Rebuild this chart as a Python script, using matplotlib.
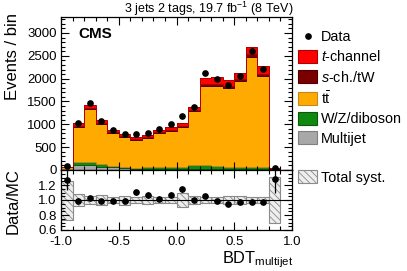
import numpy as np
import matplotlib
matplotlib.use("Agg")
import matplotlib.pyplot as plt
from matplotlib.patches import Patch
from matplotlib.lines import Line2D

plt.rcParams['font.family'] = ['Liberation Sans', 'DejaVu Sans']
plt.rcParams['mathtext.fontset'] = 'custom'
plt.rcParams['mathtext.rm'] = 'Liberation Sans'
plt.rcParams['mathtext.it'] = 'Liberation Sans:italic'
plt.rcParams['mathtext.bf'] = 'Liberation Sans:bold'
plt.rcParams['hatch.linewidth'] = 0.6

# BDT_multijet bins, width 0.1 from -1.0 to 0.9
edges = np.round(np.arange(-1.0, 0.95, 0.1), 2)

multijet = [15, 115, 110, 75, 58, 40, 30, 30, 25, 22, 22, 22, 22, 20, 20, 20, 20, 20, 3]
wz       = [5, 53, 58, 50, 37, 33, 21, 43, 33, 36, 36, 88, 78, 60, 53, 46, 38, 38, 2]
ttbar    = [48, 776, 1157, 878, 710, 652, 615, 630, 747, 791, 886, 1179, 1738, 1765, 1728, 1874, 2424, 1999, 27]
sch      = [2, 28, 30, 28, 24, 22, 18, 20, 22, 25, 26, 28, 45, 45, 42, 42, 50, 50, 1]
tch      = [5, 68, 73, 67, 57, 51, 41, 46, 51, 63, 62, 67, 137, 145, 134, 134, 162, 170, 2]
data     = [95, 1032, 1464, 1083, 878, 791, 798, 820, 893, 1003, 1179, 1384, 2123, 1999, 1867, 2050, 2606, 2218, 45]
syst     = [0.26, 0.085, 0.055, 0.07, 0.04, 0.06, 0.04, 0.05, 0.045, 0.045, 0.09, 0.055, 0.045,
            0.045, 0.055, 0.05, 0.045, 0.045, 0.31]

procs = [
    (multijet, '#a8a8a8', '#808080', 'Multijet'),
    (wz, '#118811', '#0a5a0a', 'W/Z/diboson'),
    (ttbar, '#ffaa00', '#c08a20', r'$\mathrm{t\bar{t}}$'),
    (sch, '#7a0000', '#500000', r'$s$-ch./tW'),
    (tch, '#ff0000', '#b00000', r'$t$-channel'),
]

centers = 0.5 * (edges[:-1] + edges[1:])
data = np.array(data, dtype=float)
mc = np.zeros(len(data))
for vals, _, _, _ in procs:
    mc = mc + np.array(vals)

fig = plt.figure(figsize=(4.07, 2.71), dpi=100)
W, H = 407.0, 271.0
ax = fig.add_axes([61 / W, 1 - 170 / H, 231 / W, 153 / H])
ax2 = fig.add_axes([61 / W, 1 - 230 / H, 231 / W, 60 / H], sharex=ax)

bottom = np.zeros(len(data))
for vals, fc, ec, lab in procs:
    top = bottom + np.array(vals)
    ax.stairs(top, edges, baseline=bottom, fill=True, color=fc, lw=0)
    ax.stairs(top, edges, baseline=bottom, fill=False, color=ec, lw=0.7)
    bottom = top

ax.errorbar(centers, data, yerr=np.sqrt(data), fmt='o', color='k', ms=3.8,
            elinewidth=0.9, capsize=0, zorder=5)

ax.set_xlim(-1.0, 1.0)
ax.set_ylim(0, 3350)
ax.set_yticks([0, 500, 1000, 1500, 2000, 2500, 3000])
ax.yaxis.set_minor_locator(matplotlib.ticker.MultipleLocator(100))
ax.xaxis.set_minor_locator(matplotlib.ticker.MultipleLocator(0.1))
ax.set_xticks([-1.0, -0.5, 0.0, 0.5, 1.0])
ax.tick_params(labelbottom=False)

# ratio panel
ratio = data / mc
ratio_err = np.sqrt(data) / mc
syst = np.array(syst)
ax2.bar(centers, 2 * syst, bottom=1 - syst, width=0.1, facecolor='#eeeeee',
        edgecolor='#8a8a8a', hatch='\\\\\\\\\\', lw=0.8, zorder=1)
ax2.axhline(1.0, color='k', lw=0.8, zorder=2)
ax2.errorbar(centers, ratio, yerr=ratio_err, fmt='o', color='k', ms=3.8,
             elinewidth=0.9, capsize=0, zorder=5, clip_on=True)
ax2.set_ylim(0.6, 1.4)
ax2.set_yticks([0.6, 0.8, 1.0, 1.2, 1.4])
ax2.set_yticklabels(['0.6', '0.8', '1.0', '1.2', ''])
ax2.yaxis.set_minor_locator(matplotlib.ticker.MultipleLocator(0.05))
ax2.set_xticks([-1.0, -0.5, 0.0, 0.5, 1.0])
ax2.set_xticklabels(['-1.0', '-0.5', '0.0', '0.5', '1.0'])

for a in (ax, ax2):
    a.tick_params(which='both', direction='in', top=True, right=True, labelsize=9.5, pad=3)
    a.tick_params(which='major', length=6, width=0.8)
    a.tick_params(which='minor', length=3, width=0.8)
    for s in a.spines.values():
        s.set_linewidth(0.9)
ax2.tick_params(axis='x', pad=4)

fig.text(293 / W, 1 - 12.5 / H, r'3 jets 2 tags, 19.7 fb$^{-1}$ (8 TeV)', ha='right',
         va='baseline', fontsize=9)
fig.text(78 / W, 1 - 37.5 / H, 'CMS', fontsize=11, fontweight='bold', ha='left', va='baseline')
fig.text(13 / W, 1 - 100 / H, 'Events / bin', rotation=90, ha='center', va='bottom', fontsize=12)
fig.text(13 / W, 1 - 201 / H, 'Data/MC', rotation=90, ha='center', va='center', fontsize=12)
fig.text(293 / W, 8 / H, r'BDT$_{\mathrm{multijet}}$', ha='right', va='baseline', fontsize=11.8)

handles = [Line2D([], [], marker='o', color='k', ls='none', ms=3.8)]
labels = ['Data']
for vals, fc, ec, lab in reversed(procs):
    handles.append(Patch(facecolor=fc, edgecolor=ec, lw=0.8))
    labels.append(lab)
handles.append(Patch(facecolor='none', edgecolor='none'))
labels.append('')
handles.append(Patch(facecolor='#eeeeee', edgecolor='#8a8a8a', hatch='\\\\\\\\\\', lw=0.8))
labels.append('Total syst.')

fig.legend(handles, labels, loc='upper left', bbox_to_anchor=(298 / W, 1 - 30 / H),
           frameon=False, fontsize=10.4, handlelength=1.32, handleheight=0.97,
           handletextpad=0.28, labelspacing=0.36, borderpad=0, borderaxespad=0)

fig.savefig('out.png', dpi=100)
